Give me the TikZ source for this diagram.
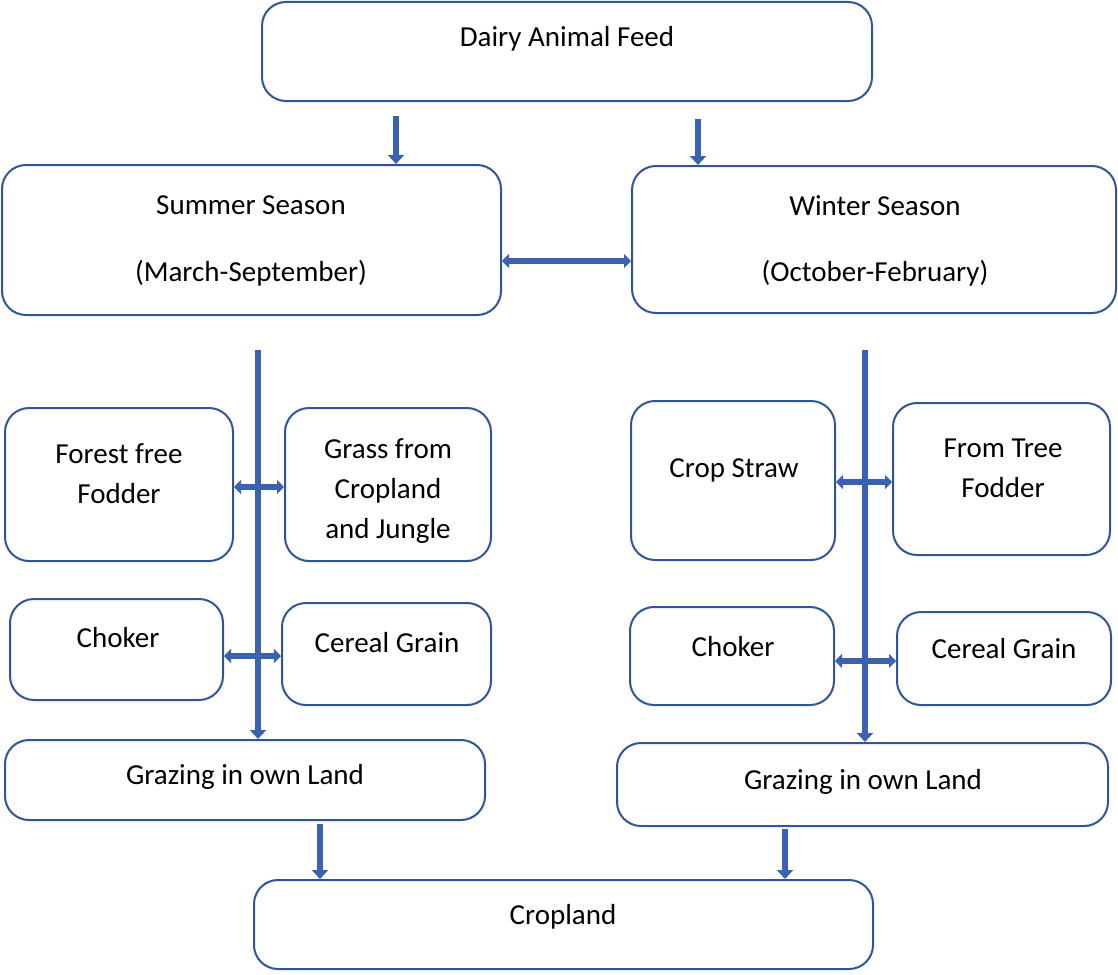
\documentclass[tikz,border=0pt]{standalone}
\usepackage{fontspec}
\setmainfont{Carlito}
\usetikzlibrary{arrows.meta}
\definecolor{boxblue}{HTML}{2F5597}
\definecolor{arrowblue}{HTML}{3A62B0}
\tikzset{
	box/.style={draw=boxblue, line width=2pt, rounded corners=24pt, inner sep=0pt},
	txt/.style={align=center, inner sep=0pt, font=\fontsize{29}{40}\selectfont},
	flow/.style={draw=arrowblue, line width=6pt, -{Triangle[width=16pt,length=9pt]}},
	flowboth/.style={draw=arrowblue, line width=6pt, {Triangle[width=14pt,length=7pt]}-{Triangle[width=14pt,length=7pt]}},
}
\begin{document}
\begin{tikzpicture}[x=1pt,y=-1pt]
			%\draw [help lines] (0,0) grid (1118,974);
			\useasboundingbox (0,0) rectangle (1118,974);
			% boxes
			\node[box, minimum width=610pt, minimum height=99pt] (feed) at (567,51.5) {};
			\node[box, minimum width=499pt, minimum height=150pt] (summer) at (251.5,240) {};
			\node[box, minimum width=484pt, minimum height=147pt] (winter) at (874,239.5) {};
			\node[box, minimum width=228pt, minimum height=153pt] (forest) at (119,484.5) {};
			\node[box, minimum width=206pt, minimum height=153pt] (grass) at (388,484.5) {};
			\node[box, minimum width=213pt, minimum height=101pt] (chokerL) at (116.5,649.5) {};
			\node[box, minimum width=209pt, minimum height=102pt] (cerealL) at (386.5,654) {};
			\node[box, minimum width=480pt, minimum height=80pt] (grazeL) at (245,780) {};
			\node[box, minimum width=204pt, minimum height=159pt] (straw) at (733,480.5) {};
			\node[box, minimum width=217pt, minimum height=152pt] (tree) at (1001.5,479) {};
			\node[box, minimum width=204pt, minimum height=98pt] (chokerR) at (732,656) {};
			\node[box, minimum width=214pt, minimum height=93pt] (cerealR) at (1004,658.5) {};
			\node[box, minimum width=491pt, minimum height=83pt] (grazeR) at (862.5,784.5) {};
			\node[box, minimum width=619pt, minimum height=89pt] (cropland) at (563.5,924.5) {};
			% texts
			\node[txt] (feed-t) at (567,39) {Dairy Animal Feed};
			\node[txt] (summer-t) at (251,241) {Summer Season\\[27pt](March-September)};
			\node[txt] (winter-t) at (875,241) {Winter Season\\[26pt](October-February)};
			\node[txt] (forest-t) at (119,474) {Forest free\\Fodder};
			\node[txt] (grass-t) at (388,491) {Grass from\\Cropland\\and Jungle};
			\node[txt] (chokerL-t) at (118,638) {Choker};
			\node[txt] (cerealL-t) at (387,643) {Cereal Grain};
			\node[txt] (grazeL-t) at (245,777) {Grazing in own Land};
			\node[txt] (straw-t) at (734,470) {Crop Straw};
			\node[txt] (tree-t) at (1003,468) {From Tree\\Fodder};
			\node[txt] (chokerR-t) at (733,647) {Choker};
			\node[txt] (cerealR-t) at (1004,649) {Cereal Grain};
			\node[txt] (grazeR-t) at (863,782) {Grazing in own Land};
			\node[txt] (cropland-t) at (563,917) {Cropland};
			% arrows
			\draw[flow] ([xshift=-171pt,yshift=-14pt]feed.south) -- ([xshift=-171pt]feed.south |- summer.north);
			\draw[flow] ([xshift=131pt,yshift=-17pt]feed.south) -- ([xshift=131pt]feed.south |- winter.north);
			\draw[flowboth] ([yshift=-21pt]summer.east) -- ([yshift=-21pt]summer.east -| winter.west);
			\draw[flowboth] ([yshift=-2.5pt]forest.east) -- ([yshift=-2.5pt]forest.east -| grass.west);
			\draw[flowboth] ([yshift=-6.5pt]chokerL.east) -- ([yshift=-6.5pt]chokerL.east -| cerealL.west);
			\draw[flowboth] ([yshift=-1.5pt]straw.east) -- ([yshift=-1.5pt]straw.east -| tree.west);
			\draw[flowboth] ([yshift=-5pt]chokerR.east) -- ([yshift=-5pt]chokerR.east -| cerealR.west);
			\draw[flow] ([xshift=6.5pt,yshift=-34pt]summer.south) -- ([xshift=6.5pt]summer.south |- grazeL.north);
			\draw[flow] ([xshift=-9pt,yshift=-36pt]winter.south) -- ([xshift=-9pt]winter.south |- grazeR.north);
			\draw[flow] ([xshift=75pt,yshift=-3pt]grazeL.south) -- ([xshift=75pt]grazeL.south |- cropland.north);
			\draw[flow] ([xshift=-77.5pt,yshift=-2pt]grazeR.south) -- ([xshift=-77.5pt]grazeR.south |- cropland.north);
		\end{tikzpicture}
\end{document}
